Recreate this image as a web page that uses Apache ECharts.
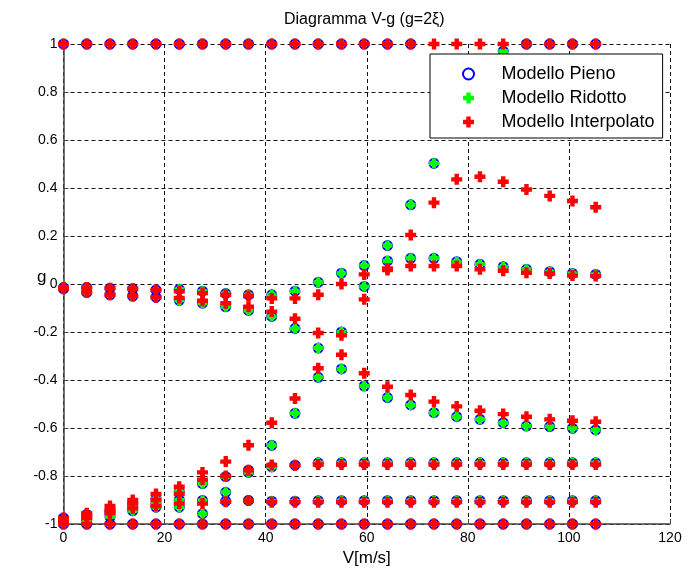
<!DOCTYPE html>
<html><head><meta charset="utf-8">
<script src="https://cdn.jsdelivr.net/npm/echarts@6/dist/echarts.min.js"></script>
<style>html,body{margin:0;padding:0;background:#fff}#c{width:688px;height:575px}</style>
</head><body><div id="c"></div>
<script>
// Flight speeds V [m/s] at which the roots were computed
const velocities = [0, 4.6, 9.2, 13.7, 18.3, 22.9, 27.5, 32.1, 36.6, 41.2, 45.8, 50.4, 55.0, 59.5, 64.1, 68.7, 73.3, 77.8, 82.4, 87.0, 91.6, 96.2, 100.7, 105.3];

// Modello Pieno: g of each root at each speed (null = not shown)
const pienoTop   = [1,1,1,1,1,1,1,1,1,1,1,1,1,1,1,1,null,null,null,0.97,1,1,1,1];
const pienoUp    = [-0.015,-0.015,-0.018,-0.02,-0.025,-0.022,-0.03,-0.04,-0.045,-0.045,-0.03,0.007,0.045,0.077,0.16,0.33,0.503,null,null,null,null,null,null,null];
const pienoNear  = [-0.02,-0.035,-0.045,-0.05,-0.055,-0.068,-0.08,-0.095,-0.11,-0.135,-0.185,-0.267,-0.2,-0.01,0.096,0.107,0.107,0.093,0.082,0.072,0.061,0.051,0.044,0.04];
const pienoL4    = [-0.975,-0.96,-0.945,-0.915,-0.895,-0.865,-0.832,-0.803,-0.776,-0.672,-0.539,-0.389,-0.354,-0.425,-0.473,-0.504,-0.536,-0.553,-0.564,-0.578,-0.592,-0.594,-0.601,-0.608];
const pienoL3    = [-0.98,-0.975,-0.955,-0.93,-0.915,-0.9,-0.902,-0.868,-0.785,-0.762,-0.755,-0.745,-0.745,-0.745,-0.745,-0.745,-0.745,-0.745,-0.745,-0.745,-0.745,-0.745,-0.745,-0.745];
const pienoL2    = [-0.985,-0.985,-0.97,-0.945,-0.93,-0.93,-0.957,-0.905,-0.902,-0.905,-0.905,-0.903,-0.903,-0.903,-0.903,-0.903,-0.903,-0.903,-0.903,-0.903,-0.903,-0.903,-0.903,-0.903];
const pienoL1    = [-1,-1,-1,-1,-1,-1,-1,-1,-1,-1,-1,-1,-1,-1,-1,-1,-1,-1,-1,-1,-1,-1,-1,-1];

// Modello Ridotto: read as coincident with Modello Pieno
const ridottoTop  = [1,1,1,1,1,1,1,1,1,1,1,1,1,1,1,1,null,null,null,0.97,1,1,1,1];
const ridottoUp   = [-0.015,-0.015,-0.018,-0.02,-0.025,-0.022,-0.03,-0.04,-0.045,-0.045,-0.03,0.007,0.045,0.077,0.16,0.33,0.503,null,null,null,null,null,null,null];
const ridottoNear = [-0.02,-0.035,-0.045,-0.05,-0.055,-0.068,-0.08,-0.095,-0.11,-0.135,-0.185,-0.267,-0.2,-0.01,0.096,0.107,0.107,0.093,0.082,0.072,0.061,0.051,0.044,0.04];
const ridottoL4   = [-0.975,-0.96,-0.945,-0.915,-0.895,-0.865,-0.832,-0.803,-0.776,-0.672,-0.539,-0.389,-0.354,-0.425,-0.473,-0.504,-0.536,-0.553,-0.564,-0.578,-0.592,-0.594,-0.601,-0.608];
const ridottoL3   = [-0.98,-0.975,-0.955,-0.93,-0.915,-0.9,-0.902,-0.868,-0.785,-0.762,-0.755,-0.745,-0.745,-0.745,-0.745,-0.745,-0.745,-0.745,-0.745,-0.745,-0.745,-0.745,-0.745,-0.745];
const ridottoL2   = [-0.985,-0.985,-0.97,-0.945,-0.93,-0.93,-0.957,-0.905,-0.902,-0.905,-0.905,-0.903,-0.903,-0.903,-0.903,-0.903,-0.903,-0.903,-0.903,-0.903,-0.903,-0.903,-0.903,-0.903];
const ridottoL1   = [-1,-1,-1,-1,-1,-1,-1,-1,-1,-1,-1,-1,-1,-1,-1,-1,-1,-1,-1,-1,-1,-1,-1,-1];

// Modello Interpolato
const interpTop  = [1,1,1,1,1,1,1,1,1,1,1,1,1,1,1,1,1,1,1,1,1,1,1,1];
const interpUp   = [-0.015,-0.015,-0.018,-0.02,-0.025,-0.03,-0.038,-0.045,-0.05,-0.06,-0.06,-0.045,0.0,0.04,0.065,0.204,0.339,0.436,0.447,0.426,0.394,0.367,0.346,0.32];
const interpNear = [-0.02,-0.035,-0.045,-0.05,-0.055,-0.058,-0.07,-0.08,-0.095,-0.115,-0.145,-0.204,-0.214,-0.064,0.058,0.075,0.075,0.075,0.061,0.055,0.047,0.044,0.035,0.033];
const interpL4   = [-0.975,-0.955,-0.925,-0.9,-0.875,-0.845,-0.785,-0.74,-0.672,-0.578,-0.477,-0.351,-0.295,-0.372,-0.428,-0.4625,-0.49,-0.51,-0.528,-0.542,-0.553,-0.564,-0.57,-0.574];
const interpL3   = [-0.98,-0.965,-0.94,-0.915,-0.9,-0.875,-0.815,-0.8,-0.776,-0.754,-0.755,-0.752,-0.752,-0.752,-0.752,-0.752,-0.752,-0.752,-0.752,-0.752,-0.752,-0.752,-0.752,-0.752];
const interpL2   = [-0.985,-0.975,-0.955,-0.935,-0.925,-0.915,-0.915,-0.907,-0.902,-0.909,-0.909,-0.909,-0.909,-0.909,-0.909,-0.909,-0.909,-0.909,-0.909,-0.909,-0.909,-0.909,-0.909,-0.909];
const interpL1   = [-1,-1,-1,-1,-1,-1,-1,-1,-1,-1,-1,-1,-1,-1,-1,-1,-1,-1,-1,-1,-1,-1,-1,-1];

const seriesNames = ['Modello Pieno', 'Modello Ridotto', 'Modello Interpolato'];
const xTicks = [0, 20, 40, 60, 80, 100, 120];
const yTicks = [-1, -0.8, -0.6, -0.4, -0.2, 0, 0.2, 0.4, 0.6, 0.8, 1];

function toPoints(modes) {
  const pts = [];
  modes.forEach(m => m.forEach((g, i) => { if (g !== null) pts.push([velocities[i], g]); }));
  return pts;
}

const FONT = '"Liberation Sans", Arial, sans-serif';
const PLUS = 'path://M3,0H7V3H10V7H7V10H3V7H0V3H3Z';

const chart = echarts.init(document.getElementById('c'), null, {renderer: 'canvas'});
chart.setOption({
  animation: false,
  backgroundColor: '#fff',
  title: {
    text: 'Diagramma V-g (g=2ξ)',
    left: 279, top: 7,
    textStyle: {fontFamily: FONT, fontSize: 16, fontWeight: 'normal', color: '#000'}
  },
  legend: {
    orient: 'vertical', left: 430, top: 54,
    backgroundColor: '#fff', borderColor: '#000', borderWidth: 1,
    padding: [11, 8, 7, 32],
    itemWidth: 56, itemHeight: 11, itemGap: 6,
    textStyle: {fontFamily: FONT, fontSize: 18, color: '#000'},
    data: seriesNames
  },
  grid: {left: 63.5, right: 18, top: 44, bottom: 51, containLabel: false, outerBoundsMode: 'none'},
  xAxis: {
    type: 'value', min: xTicks[0], max: xTicks[xTicks.length - 1], interval: 20,
    name: 'V[m/s]', nameLocation: 'middle', nameGap: 26, nameMoveOverlap: false,
    nameTextStyle: {fontFamily: FONT, fontSize: 17, color: '#000'},
    axisLine: {show: true, onZero: false, lineStyle: {color: '#444', width: 1.5}},
    axisTick: {show: true, inside: true, length: 5, lineStyle: {color: '#444'}},
    axisLabel: {fontFamily: FONT, fontSize: 14, color: '#000', margin: 7},
    splitLine: {show: true, lineStyle: {color: '#111', type: [4, 3], width: 1}}
  },
  yAxis: {
    type: 'value', min: yTicks[0], max: yTicks[yTicks.length - 1], interval: 0.2,
    name: 'g', nameLocation: 'middle', nameGap: 17, nameRotate: 0, nameMoveOverlap: false,
    nameTextStyle: {fontFamily: FONT, fontSize: 17, color: '#000', verticalAlign: 'bottom', lineHeight: 14},
    axisLine: {show: true, onZero: false, lineStyle: {color: '#444', width: 1.5}},
    axisTick: {show: true, inside: true, length: 5, lineStyle: {color: '#444'}},
    axisLabel: {fontFamily: FONT, fontSize: 14, color: '#000', margin: 6,
      formatter: v => String(Math.round(v * 10) / 10)},
    splitLine: {show: true, lineStyle: {color: '#111', type: [4, 3], width: 1}}
  },
  series: [
    {
      name: seriesNames[0], type: 'scatter', symbol: 'circle', symbolSize: 9,
      itemStyle: {color: 'rgba(0,0,0,0)', borderColor: '#0000ff', borderWidth: 2, opacity: 1},
      data: toPoints([pienoTop, pienoUp, pienoNear, pienoL4, pienoL3, pienoL2, pienoL1])
    },
    {
      name: seriesNames[1], type: 'scatter', symbol: PLUS, symbolSize: 10,
      itemStyle: {color: '#00ff00', opacity: 1},
      data: toPoints([ridottoTop, ridottoUp, ridottoNear, ridottoL4, ridottoL3, ridottoL2, ridottoL1])
    },
    {
      name: seriesNames[2], type: 'scatter', symbol: PLUS, symbolSize: 11,
      itemStyle: {color: '#ff0000', opacity: 1},
      data: toPoints([interpTop, interpUp, interpNear, interpL4, interpL3, interpL2, interpL1])
    }
  ]
});
</script></body></html>
